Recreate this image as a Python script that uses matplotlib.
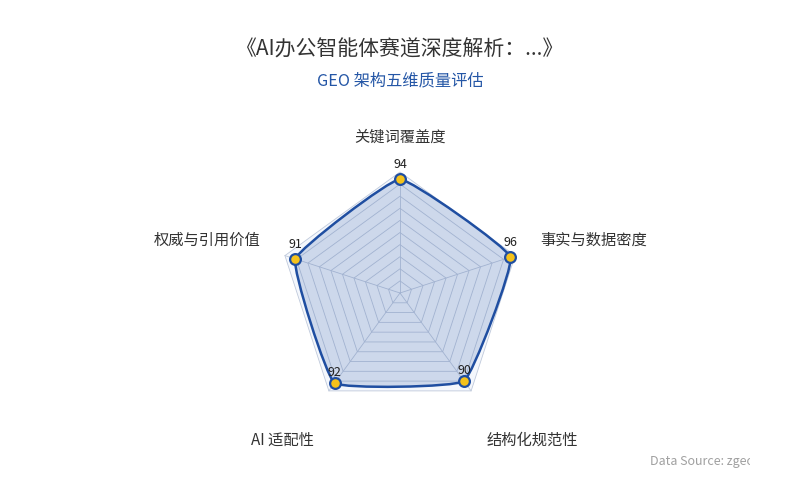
import numpy as np
import matplotlib
matplotlib.use("Agg")
import matplotlib.pyplot as plt
from matplotlib.path import Path
from matplotlib.patches import PathPatch, Polygon
from matplotlib.transforms import Bbox

plt.rcParams["font.family"] = ["Noto Sans CJK SC", "DejaVu Sans"]

# ── data ─────────────────────────────────────────────────────────────────────
dimensions = ["关键词覆盖度", "事实与数据密度", "结构化规范性", "AI 适配性", "权威与引用价值"]
scores     = [94, 96, 90, 92, 91]
max_score  = 100
n_rings    = 10

title    = "《AI办公智能体赛道深度解析：...》"
subtitle = "GEO 架构五维质量评估"
source   = "Data Source: zgeo.ai"

LINE  = "#1f4ea1"
GOLD  = "#f5c21b"
GRID  = "#bfc9db"
TEXT  = "#333333"

# ── geometry: clockwise from top ────────────────────────────────────────────
n      = len(dimensions)
angles = np.pi / 2 - np.arange(n) * 2 * np.pi / n
ux, uy = np.cos(angles), np.sin(angles)

fig = plt.figure(figsize=(8, 5), dpi=100)
ax  = fig.add_axes([0, 0, 1, 1])
scale = 1.21                      # px per data unit
ax.set_xlim(-400 / scale, 400 / scale)
ax.set_ylim(-207 / scale, 293 / scale)
ax.set_aspect("equal")
ax.axis("off")

# light split area + rings + spokes
outer = np.column_stack([ux, uy]) * max_score
ax.add_patch(Polygon(outer, closed=True, facecolor="#f4f7fc", edgecolor="none", zorder=0))
for lvl in np.linspace(max_score / n_rings, max_score, n_rings):
    ring = np.column_stack([ux, uy]) * lvl
    ax.add_patch(Polygon(ring, closed=True, fill=False, edgecolor=GRID,
                         linewidth=0.6, zorder=1))
for x, y in zip(ux, uy):
    ax.plot([0, x * max_score], [0, y * max_score], color=GRID, linewidth=0.6, zorder=1)

# smoothed closed data line
pts = np.column_stack([ux * np.array(scores), uy * np.array(scores)])
s = 0.05
verts, codes = [pts[0]], [Path.MOVETO]
for i in range(n):
    p0, p1 = pts[i - 1], pts[i]
    p2, p3 = pts[(i + 1) % n], pts[(i + 2) % n]
    verts += [p1 + s * (p2 - p0), p2 - s * (p3 - p1), p2]
    codes += [Path.CURVE4] * 3
path = Path(verts, codes)
ax.add_patch(PathPatch(path, facecolor=LINE, alpha=0.18, edgecolor="none", zorder=2))
ax.add_patch(PathPatch(path, facecolor="none", edgecolor=LINE, linewidth=1.8, zorder=3))
ax.scatter(pts[:, 0], pts[:, 1], s=60, color=GOLD, edgecolor=LINE,
           linewidths=1.6, zorder=4)

for (x, y), v in zip(pts, scores):
    dy = 3 if y < 0 else 6
    ax.annotate(str(v), (x, y), xytext=(0, dy), textcoords="offset points",
                ha="center", va="bottom", fontsize=9, color="#222222", zorder=5)

# axis names
label_r = 147 / scale
for name, x, y in zip(dimensions, ux, uy):
    if abs(x) < 1e-6:
        ha, va, off = "center", "bottom", (0, 0)
    elif y < -0.5:
        ha, va, off = ("left" if x > 0 else "right"), "top", (0, -14)
    else:
        ha, va, off = ("left" if x > 0 else "right"), "center", (0, 5)
    ax.annotate(name, (x * label_r, y * label_r), xytext=off, textcoords="offset points",
                ha=ha, va=va, fontsize=11, color=TEXT)

fig.text(0.5, 1 - 50 / 500, title, ha="center", va="center", fontsize=15, color=TEXT)
fig.text(0.5, 1 - 81 / 500, subtitle, ha="center", va="center", fontsize=11.7, color="#2456a6")

src = fig.text(650 / 800, 1 - 462 / 500, source, ha="left", va="center",
               fontsize=9, color="#a0a0a0")
src.set_clip_box(Bbox.from_extents(0, 0, 750, 500))
src.set_clip_on(True)

fig.savefig("out.png", dpi=100)
